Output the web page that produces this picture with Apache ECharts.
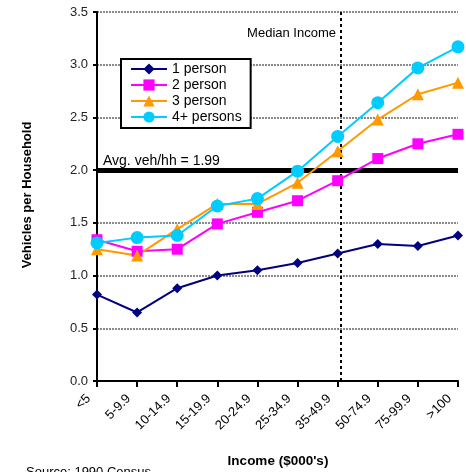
<!DOCTYPE html>
<html><head><meta charset="utf-8">
<script src="https://cdn.jsdelivr.net/npm/echarts@6/dist/echarts.min.js"></script>
<style>html,body{margin:0;padding:0;background:#fff}#c{width:466px;height:472px}</style>
</head><body><div id="c"></div>
<script>
const categories = ['<5','5-9.9','10-14.9','15-19.9','20-24.9','25-34.9','35-49.9','50-74.9','75-99.9','>100'];
const onePerson  = [0.82,0.65,0.88,1.00,1.05,1.12,1.21,1.30,1.28,1.38];
const twoPerson  = [1.34,1.23,1.25,1.49,1.60,1.71,1.90,2.11,2.25,2.34];
const threePerson= [1.25,1.19,1.44,1.68,1.68,1.88,2.18,2.48,2.72,2.83];
const fourPlus   = [1.31,1.36,1.38,1.66,1.73,1.99,2.32,2.64,2.97,3.17];
const avgValue = 2.0;
const avgLabel = 'Avg. veh/hh = 1.99';
const medianPos = 6.08;

const font = 'Liberation Sans, Arial, sans-serif';
const chart = echarts.init(document.getElementById('c'));
function mk(name, data, color, symbol, size){
  return {name, type:'line', data, xAxisIndex:0, yAxisIndex:0,
    symbol, symbolSize:size, showSymbol:true,
    lineStyle:{color, width:2}, itemStyle:{color}, z:5, animation:false};
}
chart.setOption({
  animation:false,
  textStyle:{fontFamily:font},
  grid:{left:97,right:8,top:12,bottom:91,containLabel:false},
  legend:{
    left:121, top:59, orient:'vertical', itemGap:2, itemWidth:36, itemHeight:14,
    padding:[3,9,4,9],
    borderColor:'#000', borderWidth:2, backgroundColor:'#fff',
    textStyle:{fontFamily:font, fontSize:14, color:'#000', padding:[0,0,0,0]},
    data:['1 person','2 person','3 person','4+ persons']
  },
  xAxis:[{
    type:'category', data:categories, boundaryGap:false,
    axisLine:{lineStyle:{color:'#000',width:2}},
    axisTick:{show:true, alignWithLabel:true, length:6, lineStyle:{color:'#000',width:2}},
    axisLabel:{rotate:45, fontSize:13, color:'#000', fontFamily:font, margin:7, interval:0, padding:[0,12,0,0]},
    splitLine:{show:false}
  },{
    type:'value', min:0, max:9, show:false
  }],
  yAxis:{
    type:'value', min:0, max:3.5, interval:0.5,
    axisLine:{show:true, lineStyle:{color:'#000',width:2}},
    axisTick:{show:true, length:4, lineStyle:{color:'#000',width:2}},
    axisLabel:{fontSize:13, color:'#222', fontFamily:font, margin:9, formatter:v=>v.toFixed(1)},
    splitLine:{show:true, lineStyle:{color:'#8a8a8a', width:2, type:[2,1]}}
  },
  series:[
    mk('1 person', onePerson, '#000080', 'diamond', 10),
    mk('2 person', twoPerson, '#FF00FF', 'rect', 11),
    mk('3 person', threePerson, '#FF9900', 'triangle', 12),
    mk('4+ persons', fourPlus, '#00CCFF', 'circle', 13),
    {type:'line', xAxisIndex:1, yAxisIndex:0, data:[], silent:true,
      markLine:{symbol:'none', silent:true, animation:false,
        label:{show:false},
        data:[
          {xAxis:medianPos, lineStyle:{color:'#000', width:2, type:[3,3]}},
        ]}, z:3},
    {type:'line', xAxisIndex:0, yAxisIndex:0, data:[], silent:true,
      markLine:{symbol:'none', silent:true, animation:false,
        label:{show:false},
        data:[
          [{coord:[0.07,avgValue], lineStyle:{color:'#000', width:5, type:'solid'}},{coord:[8.85,avgValue]}]
        ]}, z:4}
  ],
  graphic:[
    {type:'text', x:103, y:161, style:{text:avgLabel, fontSize:14, fill:'#000', fontFamily:font, verticalAlign:'middle'}},
    {type:'text', x:336, y:33, style:{text:'Median Income', fontSize:13, fill:'#000', fontFamily:font, align:'right', verticalAlign:'middle'}},
    {type:'text', x:27, y:195, rotation:Math.PI/2,
      style:{text:'Vehicles per Household', fontSize:13, fontWeight:'bold', fill:'#000', fontFamily:font, align:'center', verticalAlign:'middle'}},
    {type:'text', x:278, y:461, style:{text:"Income ($000's)", fontSize:13.5, fontWeight:'bold', fill:'#000', fontFamily:font, align:'center', verticalAlign:'middle'}},
    {type:'text', x:26, y:466, style:{text:'Source: 1990 Census', fontSize:13, fill:'#000', fontFamily:font}}
  ]
});
</script></body></html>
